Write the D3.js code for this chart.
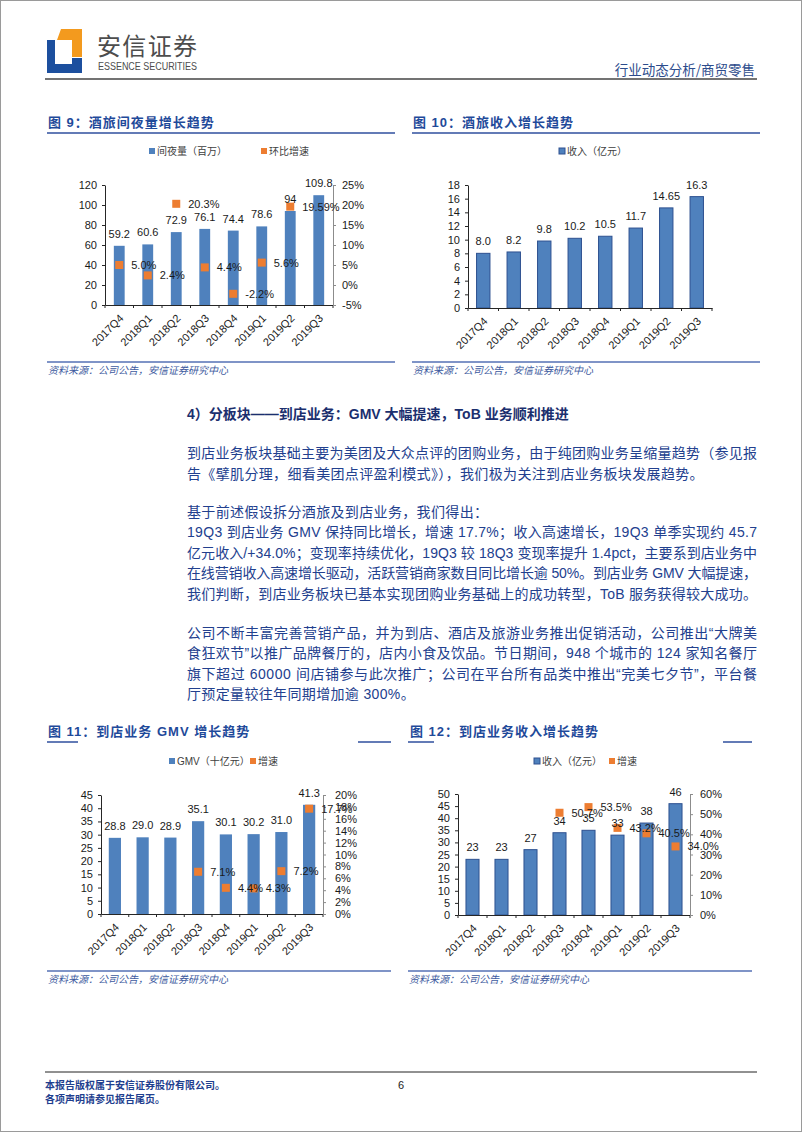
<!DOCTYPE html>
<html><head><meta charset="utf-8">
<script src="https://cdn.jsdelivr.net/npm/d3@7/dist/d3.min.js"></script>
<style>body{margin:0;background:#fff}svg{display:block}</style>
</head><body>
<svg id="page" width="802" height="1133"></svg>
<script>
// ---------------- DATA ----------------
const quarters = ["2017Q4","2018Q1","2018Q2","2018Q3","2018Q4","2019Q1","2019Q2","2019Q3"];

// Fig 9: room nights (million) and QoQ growth
const nights = [59.2, 60.6, 72.9, 76.1, 74.4, 78.6, 94, 109.8];
const nightsLabels = ["59.2","60.6","72.9","76.1","74.4","78.6","94","109.8"];
const nightsGrowth = [5.0, 2.4, 20.3, 4.4, -2.2, 5.6, 19.59, null];
const nightsGrowthLabels = ["5.0%","2.4%","20.3%","4.4%","-2.2%","5.6%","19.59%",""];
const nightsTicks = [0,20,40,60,80,100,120];
const nightsGrowthTicks = [-5,0,5,10,15,20,25];

// Fig 10: hotel & travel revenue (100m yuan)
const hotelRevenue = [8.0, 8.2, 9.8, 10.2, 10.5, 11.7, 14.65, 16.3];
const hotelRevenueLabels = ["8.0","8.2","9.8","10.2","10.5","11.7","14.65","16.3"];
const hotelTicks = [0,2,4,6,8,10,12,14,16,18];

// Fig 11: in-store GMV (10bn yuan) and growth
const gmv = [28.8, 29.0, 28.9, 35.1, 30.1, 30.2, 31.0, 41.3];
const gmvLabels = ["28.8","29.0","28.9","35.1","30.1","30.2","31.0","41.3"];
const gmvGrowth = [null, null, null, 7.1, 4.4, 4.3, 7.2, 17.7];
const gmvGrowthLabels = ["","","","7.1%","4.4%","4.3%","7.2%","17.7%"];
const gmvTicks = [0,5,10,15,20,25,30,35,40,45];
const gmvGrowthTicks = [0,2,4,6,8,10,12,14,16,18,20];

// Fig 12: in-store revenue (100m yuan) and growth
const storeRevenue = [23, 23, 27, 34, 35, 33, 38, 46];
const storeRevenueLabels = ["23","23","27","34","35","33","38","46"];
const storeGrowth = [null, null, null, 50.7, 53.5, 43.2, 40.5, 34.0];
const storeGrowthLabels = ["","","","50.7%","53.5%","43.2%","40.5%","34.0%"];
const storeTicks = [0,5,10,15,20,25,30,35,40,45,50];
const storeGrowthTicks = [0,10,20,30,40,50,60];

// ---------------- STYLE ----------------
const BLUE = "#4F81BD", BLUE_EDGE = "#2E5190", ORANGE = "#ED7D31";
const TITLE_C = "#1F4A9A", TEXT_C = "#22408E", HEAD_C = "#1B2F6E";
const NUMF = "'Liberation Sans', Arial, 'Noto Sans CJK SC', sans-serif";
const CJKF = "'Liberation Sans', 'Noto Sans CJK SC', sans-serif";

const svg = d3.select("#page");

// page frame
svg.append("rect").attr("x",0.5).attr("y",0.5).attr("width",801).attr("height",1131)
  .attr("fill","none").attr("stroke","#9a9a9a").attr("stroke-width",1);

// ---------------- HEADER ----------------
const logo = svg.append("g");
logo.append("path").attr("d","M61,29 L82,29 L82,57 L72,57 L72,40 L57,40 Z").attr("fill","#F39A1E");
logo.append("path").attr("d","M47,40 L55,40 L55,64 L72,64 L72,58 L82,58 L82,73 L47,73 Z").attr("fill","#1C4F9E");
svg.append("text").attr("x",97).attr("y",55).attr("font-family","'Noto Sans CJK SC', sans-serif")
  .attr("font-size",24).attr("fill","#4d4d4d").attr("textLength",100).text("安信证券");
svg.append("text").attr("x",98).attr("y",70).attr("font-family","'Liberation Sans Narrow','Liberation Sans',sans-serif")
  .attr("font-size",10).attr("fill","#4d4d4d").attr("textLength",99).attr("lengthAdjust","spacingAndGlyphs").text("ESSENCE SECURITIES");
svg.append("text").attr("x",755).attr("y",75).attr("text-anchor","end").attr("font-family","'Noto Sans CJK SC', sans-serif")
  .attr("font-size",13.5).attr("fill","#2D4C8C").text("行业动态分析/商贸零售");
svg.append("line").attr("x1",45).attr("x2",757).attr("y1",79).attr("y2",79).attr("stroke","#444").attr("stroke-width",1.5);

// ---------------- helpers ----------------
function title(x, y, txt, lineX1, lineX2, lineY, gap) {
  svg.append("text").attr("x",x).attr("y",y).attr("font-family",CJKF).attr("font-weight","bold")
    .attr("font-size",13).attr("letter-spacing",1).attr("fill",TITLE_C).text(txt);
  if (!gap) {
    svg.append("line").attr("x1",lineX1).attr("x2",lineX2).attr("y1",lineY).attr("y2",lineY)
      .attr("stroke","#2F4F9E").attr("stroke-width",1.5);
  } else {
    gap.forEach(s => svg.append("line").attr("x1",s[0]).attr("x2",s[1]).attr("y1",lineY).attr("y2",lineY)
      .attr("stroke","#2F4F9E").attr("stroke-width",1.5));
  }
}
function source(x1, x2, lineY) {
  svg.append("line").attr("x1",x1).attr("x2",x2).attr("y1",lineY).attr("y2",lineY)
    .attr("stroke","#5470B5").attr("stroke-width",1.5);
  svg.append("text").attr("x",x1+1).attr("y",lineY+12).attr("font-family",CJKF).attr("font-style","italic")
    .attr("font-size",10).attr("fill","#3D5A9E").text("资料来源：公司公告，安信证券研究中心");
}
function legendItem(x, y, color, edge, txt) {
  svg.append("rect").attr("x",x).attr("y",y-3).attr("width",6).attr("height",6)
    .attr("fill",color).attr("stroke",edge||"none").attr("stroke-width",edge?1:0);
  svg.append("text").attr("x",x+8).attr("y",y+3.5).attr("font-family",CJKF).attr("font-size",10)
    .attr("fill","#404040").text(txt);
}

function barChart(o) {
  const x = d3.scaleBand().domain(quarters).range([o.x0, o.x1]).paddingInner(o.pad).paddingOuter(o.pad/2);
  const y = d3.scaleLinear().domain([o.yTicks[0], o.yTicks[o.yTicks.length-1]]).range([o.base, o.top]);
  const g = svg.append("g");

  // left axis
  const la = g.append("g").attr("transform",`translate(${o.x0},0)`)
    .call(d3.axisLeft(y).tickValues(o.yTicks).tickSize(3).tickSizeOuter(0).tickPadding(5));
  la.select(".domain").attr("stroke","#262626");
  la.selectAll(".tick line").attr("stroke","#262626");
  la.selectAll("text").attr("font-family",NUMF).attr("font-size",11).attr("fill","#1a1a1a");

  // bars
  g.selectAll("rect.bar").data(o.values).join("rect").attr("class","bar")
    .attr("x",(d,i)=>x(quarters[i])).attr("width",x.bandwidth())
    .attr("y",d=>y(d)).attr("height",d=>y(o.yTicks[0])-y(d))
    .attr("fill",BLUE).attr("stroke",o.outline?BLUE_EDGE:"none").attr("stroke-width",o.outline?1:0);

  // x axis
  const xa = g.append("g").attr("transform",`translate(0,${o.base})`)
    .call(d3.axisBottom(x).tickSize(0).tickFormat(""));
  xa.select(".domain").attr("stroke","#262626");
  const bounds = d3.range(quarters.length+1).map(i => o.x0 + i*x.step());
  g.selectAll("line.xt").data(bounds).join("line").attr("class","xt")
    .attr("x1",d=>d).attr("x2",d=>d).attr("y1",o.base).attr("y2",o.base+3).attr("stroke","#262626");
  g.selectAll("text.xl").data(quarters).join("text").attr("class","xl")
    .attr("transform",d=>`translate(${x(d)+x.bandwidth()/2+5},${o.base+14}) rotate(-45)`)
    .attr("text-anchor","end").attr("font-family",NUMF).attr("font-size",11).attr("fill","#1a1a1a").text(d=>d);

  // right axis + growth markers
  let yr = null;
  if (o.growth) {
    yr = d3.scaleLinear().domain([o.rTicks[0], o.rTicks[o.rTicks.length-1]]).range([o.base, o.top]);
    const ra = g.append("g").attr("transform",`translate(${o.x1},0)`)
      .call(d3.axisRight(yr).tickValues(o.rTicks).tickSize(3).tickSizeOuter(0).tickPadding(o.rPad||7).tickFormat(d=>d+"%"));
    ra.select(".domain").attr("stroke","#8c8c8c");
    ra.selectAll(".tick line").attr("stroke","#8c8c8c");
    ra.selectAll("text").attr("font-family",NUMF).attr("font-size",11).attr("fill","#1a1a1a");
    const pts = o.growth.map((v,i)=>({v, i})).filter(d=>d.v!==null);
    g.selectAll("rect.mk").data(pts).join("rect").attr("class","mk")
      .attr("x",d=>x(quarters[d.i])+x.bandwidth()/2-4).attr("y",d=>yr(d.v)-4)
      .attr("width",8).attr("height",8).attr("fill",ORANGE);
  }
  // value labels
  g.selectAll("text.vl").data(o.values).join("text").attr("class","vl")
    .attr("x",(d,i)=>x(quarters[i])+x.bandwidth()/2).attr("y",d=>y(d)-8)
    .attr("text-anchor","middle").attr("font-family",NUMF).attr("font-size",11).attr("fill","#1a1a1a")
    .text((d,i)=>o.labels[i]);
  if (o.growth) {
    const pts = o.growth.map((v,i)=>({v, i})).filter(d=>d.v!==null);
    g.selectAll("text.gl").data(pts).join("text").attr("class","gl")
      .attr("x",d=>x(quarters[d.i])+x.bandwidth()/2+12).attr("y",d=>yr(d.v)+4)
      .attr("font-family",NUMF).attr("font-size",11).attr("fill","#1a1a1a")
      .text(d=>o.growthLabels[d.i]);
  }
}

// ---------------- FIG 9 ----------------
title(48, 127, "图 9：酒旅间夜量增长趋势", 47, 395, 133);
legendItem(149, 151, BLUE, null, "间夜量（百万）");
legendItem(261, 151, ORANGE, null, "环比增速");
barChart({x0:105, x1:333, base:305, top:185, pad:0.62, yTicks:nightsTicks,
  values:nights, labels:nightsLabels, growth:nightsGrowth, growthLabels:nightsGrowthLabels,
  rTicks:nightsGrowthTicks, rPad:6});
source(47, 395, 362);

// ---------------- FIG 10 ----------------
title(413, 127, "图 10：酒旅收入增长趋势", 412, 760, 133);
legendItem(559, 151, BLUE, BLUE_EDGE, "收入（亿元）");
barChart({x0:468, x1:712, base:308, top:185, pad:0.56, yTicks:hotelTicks,
  values:hotelRevenue, labels:hotelRevenueLabels, outline:true});
source(412, 760, 362);

// ---------------- TEXT SECTION ----------------
svg.append("text").attr("x",187).attr("y",419).attr("font-family",CJKF).attr("font-weight","bold")
  .attr("font-size",14).attr("fill",HEAD_C).text("4）分板块——到店业务：GMV 大幅提速，ToB 业务顺利推进");

const paraLines = [
  ["到店业务板块基础主要为美团及大众点评的团购业务，由于纯团购业务呈缩量趋势（参见报", 458, true],
  ["告《擘肌分理，细看美团点评盈利模式》），我们极为关注到店业务板块发展趋势。", 479, false],
  ["基于前述假设拆分酒旅及到店业务，我们得出：", 517, false],
  ["19Q3 到店业务 GMV 保持同比增长，增速 17.7%；收入高速增长，19Q3 单季实现约 45.7", 537, true],
  ["亿元收入/+34.0%；变现率持续优化，19Q3 较 18Q3 变现率提升 1.4pct，主要系到店业务中", 558, true],
  ["在线营销收入高速增长驱动，活跃营销商家数目同比增长逾 50%。到店业务 GMV 大幅提速，", 578, true],
  ["我们判断，到店业务板块已基本实现团购业务基础上的成功转型，ToB 服务获得较大成功。", 599, true],
  ["公司不断丰富完善营销产品，并为到店、酒店及旅游业务推出促销活动，公司推出“大牌美", 638, true],
  ["食狂欢节”以推广品牌餐厅的，店内小食及饮品。节日期间，948 个城市的 124 家知名餐厅", 658, true],
  ["旗下超过 60000 间店铺参与此次推广；公司在平台所有品类中推出“完美七夕节”，平台餐", 679, true],
  ["厅预定量较往年同期增加逾 300%。", 699, false]
];
paraLines.forEach(([t, yy, just]) => {
  const el = svg.append("text").attr("x",187).attr("y",yy).attr("font-family",CJKF)
    .attr("font-size",14).attr("fill",TEXT_C).text(t);
  if (just) el.attr("textLength",570).attr("lengthAdjust","spacing");
  else el.attr("letter-spacing",0.35);
});

// ---------------- FIG 11 ----------------
title(48, 736, "图 11：到店业务 GMV 增长趋势", 0, 0, 742, [[47,78],[358,391]]);
legendItem(169, 761, BLUE, null, "GMV（十亿元）");
legendItem(250, 761, ORANGE, null, "增速");
barChart({x0:101, x1:323, base:914, top:795, pad:0.56, yTicks:gmvTicks,
  values:gmv, labels:gmvLabels, growth:gmvGrowth, growthLabels:gmvGrowthLabels,
  rTicks:gmvGrowthTicks, rPad:9});
source(47, 391, 971);

// ---------------- FIG 12 ----------------
title(410, 736, "图 12：到店业务收入增长趋势", 0, 0, 742, [[408,434],[723,752]]);
legendItem(534, 761, BLUE, BLUE_EDGE, "收入（亿元）");
legendItem(609, 761, ORANGE, null, "增速");
barChart({x0:458, x1:690, base:915, top:794, pad:0.55, yTicks:storeTicks,
  values:storeRevenue, labels:storeRevenueLabels, outline:true, growth:storeGrowth,
  growthLabels:storeGrowthLabels, rTicks:storeGrowthTicks, rPad:7});
source(408, 752, 971);

// ---------------- FOOTER ----------------
svg.append("line").attr("x1",45).attr("x2",757).attr("y1",1072).attr("y2",1072).attr("stroke","#222").attr("stroke-width",1);
svg.append("text").attr("x",45).attr("y",1089).attr("font-family",CJKF).attr("font-weight","bold")
  .attr("font-size",10).attr("fill","#1F3F8F").text("本报告版权属于安信证券股份有限公司。");
svg.append("text").attr("x",45).attr("y",1103).attr("font-family",CJKF).attr("font-weight","bold")
  .attr("font-size",10).attr("fill","#1F3F8F").text("各项声明请参见报告尾页。");
svg.append("text").attr("x",401).attr("y",1089).attr("text-anchor","middle").attr("font-family",NUMF)
  .attr("font-size",11).attr("fill","#222").text("6");
</script>
</body></html>
